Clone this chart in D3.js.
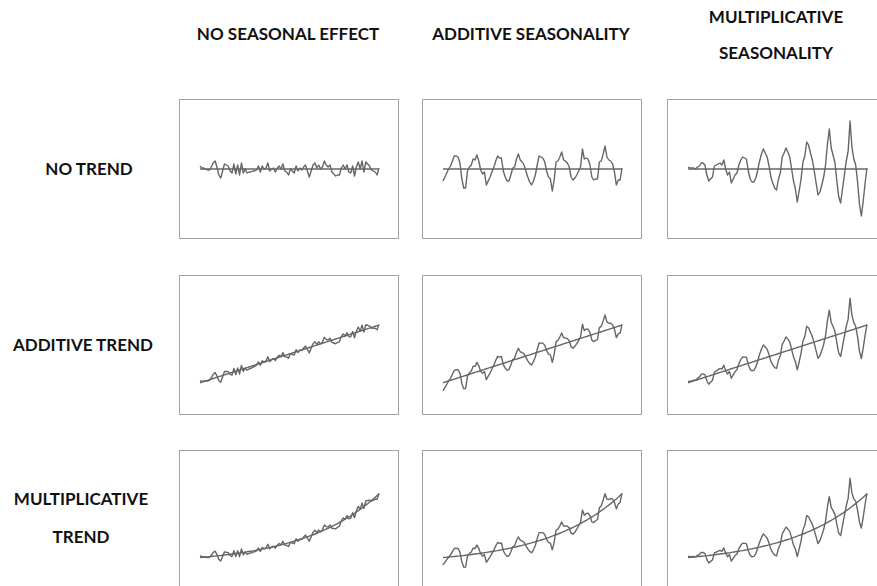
<!DOCTYPE html>
<html>
<head>
<meta charset="utf-8">
<script src="https://cdn.jsdelivr.net/npm/d3@7"></script>
<style>
  html, body { margin: 0; padding: 0; background: #fff; overflow: hidden; }
  svg { display: block; }
  .lbl { font-family: Lato, "Open Sans", sans-serif; font-weight: 700; fill: #111; }
</style>
</head>
<body>
<svg id="chart" width="877" height="586"></svg>
<script>
// ---- Data ----
const colLabels = [["NO SEASONAL EFFECT"], ["ADDITIVE SEASONALITY"], ["MULTIPLICATIVE", "SEASONALITY"]];
const rowLabels = [["NO TREND"], ["ADDITIVE TREND"], ["MULTIPLICATIVE", "TREND"]];

// irregular component (no seasonal effect)
const noSeason = [3,1,1,0,-1,-1,2,6,8,2,-6,-9,-2,5,4,3,-2,-4,5,-5,4,-6,6,-4,0,-4,-3,-3,-2,-2,
  -1,3,-3,3,0,1,6,-2,0,1,-3,1,3,0,5,-2,-3,-6,0,-2,-4,3,-2,1,-1,2,4,-2,-8,-2,
  4,6,1,4,0,2,8,4,2,4,-3,-5,-7,-6,-6,1,4,0,4,-3,-4,3,-7,2,7,0,8,-3,7,5,
  3,-1,-2,-3,-6,1];

// additive seasonality series
const addSeason = [-12,-8,-4,0,3,8,13,13,12,6,-10,-19,-19,-2,2,4,10,9,14,8,-1,-5,-3,-16,-12,-8,-3,2,8,13,
  11,11,-2,-8,-12,-12,-6,1,2,10,15,9,7,4,-2,-8,-13,-16,-12,-6,4,13,12,11,7,-2,-8,-10,-22,-11,
  7,8,12,17,9,8,6,2,-8,-11,-9,-6,-2,2,20,10,11,10,4,-8,-11,-10,-10,7,8,15,23,12,9,8,
  5,-3,-16,-11,-11,1];

// multiplicative seasonality series
const multSeason = [2,1,1,1,0,2,3,6,6,4,-6,-12,-10,-8,3,4,5,6,4,9,0,-6,-3,-14,-10,-6,-4,4,9,12,
  11,10,-2,-10,-13,-13,-9,-1,8,15,20,16,12,3,-8,-14,-19,-21,-10,-4,12,16,21,17,12,0,-12,-20,-33,-22,
  -10,7,13,27,24,16,9,-2,-14,-26,-23,-16,-8,4,25,40,21,14,6,-12,-28,-34,-20,-6,8,18,48,22,10,4,
  -13,-35,-47,-32,-14,1];

// trend components
const trendAdd = [0,0.9,1.8,2.7,3.6,4.5,5.4,6.3,7.2,8.1,9,9.9,10.8,11.7,12.6,13.5,14.4,15.3,16.2,17.1,
  18,18.9,19.8,20.7,21.6,22.5,23.4,24.3,25.2,26.1,27,27.9,28.8,29.7,30.6,31.5,32.4,33.3,34.2,35.1,
  36,36.9,37.8,38.7,39.6,40.5,41.4,42.3,43.2,44.1,45,45.9,46.8,47.7,48.6,49.5,50.4,51.3,52.2,53.1,
  54,54.9,55.8,56.7,57.6,58.5,59.4,60.3,61.2,62.1,63,63.9,64.8,65.7,66.6,67.5,68.4,69.3,70.2,71.1,
  72,72.9,73.8,74.7,75.6,76.5,77.4,78.3,79.2,80.1,81,81.9,82.8,83.7,84.6,85.5];
const trendMult = [0,0.3,0.5,0.8,1.1,1.4,1.7,2,2.3,2.7,3,3.3,3.7,4.1,4.4,4.8,5.2,5.6,6,6.4,
  6.9,7.3,7.7,8.2,8.7,9.2,9.7,10.2,10.7,11.2,11.8,12.4,12.9,13.5,14.1,14.8,15.4,16.1,16.7,17.4,
  18.1,18.9,19.6,20.4,21.2,22,22.8,23.6,24.5,25.4,26.3,27.2,28.2,29.1,30.1,31.2,32.2,33.3,34.4,35.6,
  36.7,37.9,39.1,40.4,41.7,43,44.4,45.8,47.2,48.6,50.1,51.7,53.2,54.8,56.5,58.2,59.9,61.7,63.5,65.4,
  67.3,69.3,71.3,73.4,75.5,77.7,79.9,82.2,84.5,86.9,89.4,91.9,94.5,97.2,99.9,102.7];

// value ranges of each row's panels
const rowDomains = [[-70, 70], [-47.8, 159.7], [-52.4, 173.4]];

// ---- Layout ----
const svg = d3.select("#chart");
const colX = [179, 422, 667];
const boxW = 220;
const rowY = [99, 275, 450];
const boxH = 140;
const seasons = [noSeason, addSeason, multSeason];
const trends = [null, trendAdd, trendMult];
const stroke = "#666666";

const line = (xs, ys) => d3.line().x((d, i) => xs(i)).y(d => ys(d));

rowY.forEach((ry, r) => {
  colX.forEach((cx, c) => {
    const g = svg.append("g");
    g.append("rect")
      .attr("x", cx + 0.5).attr("y", ry + 0.5)
      .attr("width", boxW - 1).attr("height", boxH - 1)
      .attr("fill", "#fff").attr("stroke", "#a3a3a3").attr("stroke-width", 1);
    const base = seasons[c];
    const tr = trends[r];
    const xs = d3.scaleLinear().domain([0, base.length - 1]).range([cx + 21, cx + 200]);
    const ys = d3.scaleLinear().domain(rowDomains[r]).range([ry + boxH, ry]);
    const trendVals = base.map((d, i) => tr ? tr[i] : 0);
    const series = base.map((d, i) => d + trendVals[i]);
    g.append("path").datum(trendVals)
      .attr("d", line(xs, ys)).attr("fill", "none")
      .attr("stroke", stroke).attr("stroke-width", 1.4);
    g.append("path").datum(series)
      .attr("d", line(xs, ys)).attr("fill", "none")
      .attr("stroke", stroke).attr("stroke-width", 1.4)
      .attr("stroke-linejoin", "round");
  });
});

// column headers
const colHeadY = [[34], [34], [17, 53]];
colLabels.forEach((lines, c) => {
  lines.forEach((t, k) => {
    svg.append("text").attr("class", "lbl")
      .attr("x", colX[c] + boxW / 2 - 1).attr("y", colHeadY[c][k])
      .attr("dy", "0.35em").attr("text-anchor", "middle")
      .attr("font-size", 17).text(t);
  });
});

// row headers
const rowHeadY = [[169], [345], [499, 537]];
const rowHeadX = [89, 83, 81];
rowLabels.forEach((lines, r) => {
  lines.forEach((t, k) => {
    svg.append("text").attr("class", "lbl")
      .attr("x", rowHeadX[r]).attr("y", rowHeadY[r][k])
      .attr("dy", "0.35em").attr("text-anchor", "middle")
      .attr("font-size", 17).text(t);
  });
});
</script>
</body>
</html>
